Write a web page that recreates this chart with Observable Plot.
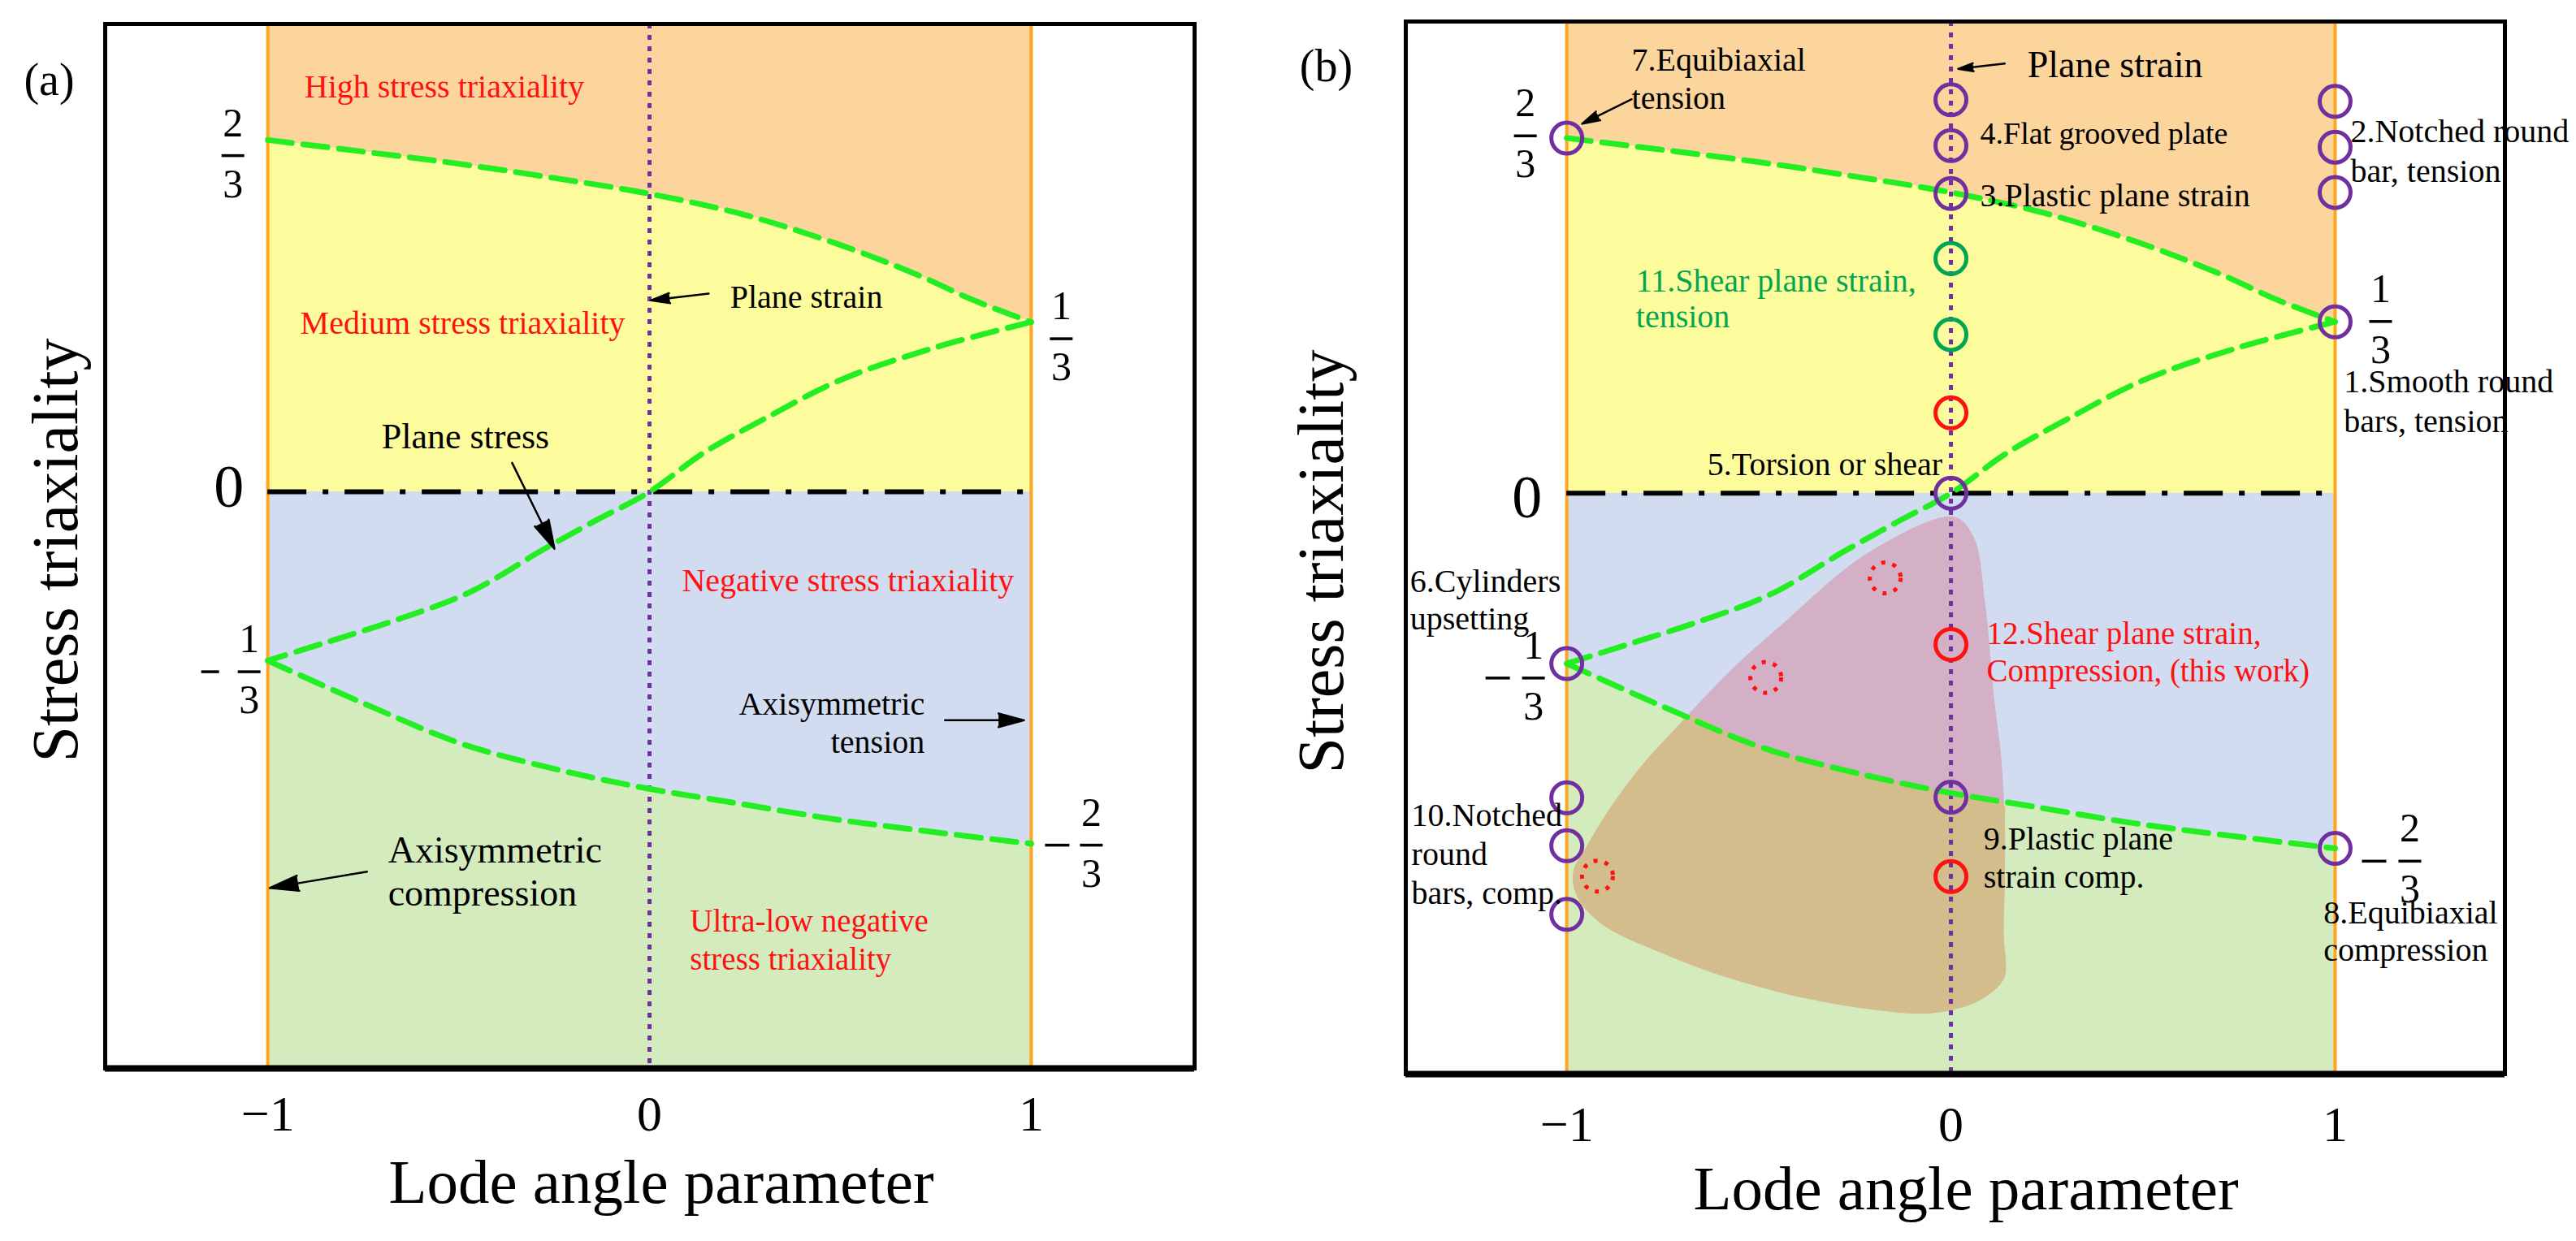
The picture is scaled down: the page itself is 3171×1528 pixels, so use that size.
<!DOCTYPE html>
<html>
<head>
<meta charset="utf-8">
<script src="https://cdn.jsdelivr.net/npm/d3@7"></script>
<script src="https://cdn.jsdelivr.net/npm/@observablehq/plot@0.6"></script>
<style>
html, body { margin: 0; padding: 0; background: #fff; }
#wrap { position: relative; width: 3171px; height: 1528px; overflow: hidden; background: #fff; }
#wrap svg { position: absolute; top: 0; }
</style>
</head>
<body>
<div id="wrap"></div>
<script>
// ---------------- data ----------------
const xTicks = [-1, 0, 1];
const xTickText = ["\u22121", "0", "1"];
const lodeLimits = [-1, 1];
const planeStrainLine = [0];
const neutralLine = [0];

// upper plane-stress branch (η from 2/3 to 1/3)
const upperX = [-1, -0.75, -0.5, -0.25, 0, 0.25, 0.5, 0.7, 0.85, 1];
const upperY = [0.667, 0.645, 0.622, 0.595, 0.565, 0.525, 0.468, 0.412, 0.363, 0.322];
// middle S-shaped plane-stress branch (1/3 -> 0 -> -1/3)
const stressX = [1, 0.75, 0.5, 0.3, 0.14, 0, -0.14, -0.28, -0.47, -0.66, -0.85, -1];
const stressY = [0.322, 0.274, 0.212, 0.138, 0.073, 0, -0.054, -0.11, -0.19, -0.242, -0.286, -0.32];
// lower branch (-1/3 -> -2/3)
const lowerX = [-1, -0.72, -0.49, -0.22, 0, 0.21, 0.47, 0.69, 1];
const lowerY = [-0.32, -0.41, -0.478, -0.53, -0.563, -0.588, -0.619, -0.64, -0.667];

// fraction labels of the stress triaxiality
const fracValue = [2/3, 1/3, -1/3, -2/3];
const fracNum = ["2", "1", "1", "2"];
const fracDen = ["3", "3", "3", "3"];
const fracNeg = [false, false, true, true];
const fracSide = [-1, 1, -1, 1];
const zeroValue = [0];

// panel (b) experiment markers
const purpleX = [-1, 0, 0, 0, 1, 1, 1, 1, 0, -1, 0, 1, -1, -1, -1];
const purpleY = [0.667, 0.739, 0.653, 0.563, 0.736, 0.650, 0.565, 0.322, 0, -0.32, -0.571, -0.667, -0.572, -0.662, -0.791];
const greenX = [0, 0];
const greenY = [0.441, 0.298];
const redX = [0, 0, 0];
const redY = [0.151, -0.284, -0.720];
const redDotX = [-0.171, -0.482, -0.920];
const redDotY = [-0.159, -0.346, -0.719];

// shaded domain of this work (panel b)
const blobX = [0.008, -0.214, -0.444, -0.571, -0.698, -0.803, -0.888, -0.951, -0.983, -0.973, -0.909, -0.761, -0.592, -0.381, -0.211, -0.061, 0.044, 0.108, 0.140, 0.137, 0.140, 0.140, 0.131, 0.112, 0.089, 0.059];
const blobY = [-0.044, -0.111, -0.249, -0.331, -0.427, -0.510, -0.592, -0.667, -0.711, -0.757, -0.809, -0.861, -0.907, -0.948, -0.969, -0.977, -0.962, -0.936, -0.907, -0.826, -0.731, -0.615, -0.498, -0.382, -0.206, -0.082];
const blobCrossX = [-0.687, 0.136];
const blobCrossY = [-0.417, -0.583];

// annotations panel (a)
const notesA = [
  {text: "High stress triaxiality", x: -0.904, y: 0.771, c: "red", s: 40},
  {text: "Medium stress triaxiality", x: -0.915, y: 0.323, c: "red", s: 40},
  {text: "Plane strain", x: 0.211, y: 0.372, c: "black", s: 40},
  {text: "Plane stress", x: -0.702, y: 0.109, c: "black", s: 44},
  {text: "Negative stress triaxiality", x: 0.085, y: -0.165, c: "red", s: 40},
  {text: "Axisymmetric\ntension", x: 0.721, y: -0.435, c: "black", s: 40, a: "end", lh: 1.18},
  {text: "Axisymmetric\ncompression", x: -0.685, y: -0.717, c: "black", s: 46, lh: 1.17},
  {text: "Ultra-low negative\nstress triaxiality", x: 0.106, y: -0.847, c: "red", s: 39, lh: 1.2}
];
const arrowsA = [
  {x1: 0.155, y1: 0.376, x2: 0.004, y2: 0.363},
  {x1: -0.360, y1: 0.055, x2: -0.249, y2: -0.108},
  {x1: 0.774, y1: -0.433, x2: 0.981, y2: -0.433},
  {x1: -0.740, y1: -0.720, x2: -0.995, y2: -0.751}
];
// annotations panel (b)
const notesB = [
  {text: "7.Equibiaxial\ntension", x: -0.831, y: 0.781, c: "black", s: 40, lh: 1.18},
  {text: "Plane strain", x: 0.199, y: 0.809, c: "black", s: 46},
  {text: "4.Flat grooved plate", x: 0.076, y: 0.679, c: "black", s: 38},
  {text: "3.Plastic plane strain", x: 0.076, y: 0.562, c: "black", s: 40},
  {text: "2.Notched round\nbar, tension", x: 1.040, y: 0.646, c: "black", s: 40, lh: 1.22},
  {text: "1.Smooth round\nbars, tension", x: 1.023, y: 0.176, c: "black", s: 40, lh: 1.22},
  {text: "11.Shear plane strain,\ntension", x: -0.820, y: 0.367, c: "green", s: 40, lh: 1.12},
  {text: "5.Torsion or shear", x: -0.634, y: 0.058, c: "black", s: 40},
  {text: "6.Cylinders\nupsetting", x: -1.408, y: -0.198, c: "black", s: 40, lh: 1.15},
  {text: "10.Notched\nround\nbars, comp.", x: -1.404, y: -0.675, c: "black", s: 40, lh: 1.2},
  {text: "12.Shear plane strain,\nCompression, (this work)", x: 0.093, y: -0.296, c: "red", s: 39, lh: 1.18},
  {text: "9.Plastic plane\nstrain comp.", x: 0.085, y: -0.682, c: "black", s: 40, lh: 1.18},
  {text: "8.Equibiaxial\ncompression", x: 0.970, y: -0.821, c: "black", s: 40, lh: 1.15}
];
const arrowsB = [
  {x1: -0.831, y1: 0.740, x2: -0.960, y2: 0.694},
  {x1: 0.140, y1: 0.807, x2: 0.019, y2: 0.797}
];

// ---------------- styles ----------------
const COL = {
  orangeFill: "#FBD59C", yellowFill: "#FDFC9C", blueFill: "#D1DCF0", greenFill: "#D4EBBE",
  pinkFill: "#D3B0C6", tanFill: "#D3BD8C",
  orangeLine: "#FFA51E", purple: "#7030A0", curve: "#22EE22",
  red: "#FF1111", green: "#00A651", black: "#000"
};
const FONT = '"Liberation Serif", "Times New Roman", Times, serif';

const hbar = {draw(ctx, size) { const r = Math.sqrt(size / Math.PI); ctx.moveTo(-r, 0); ctx.lineTo(r, 0); }};

const pts = (xs, ys) => xs.map((x, i) => ({x, y: ys[i]}));

function panel(cfg) {
  const [yMin, yMax] = cfg.yDomain;
  const upper = pts(upperX, upperY), middle = pts(stressX, stressY), lower = pts(lowerX, lowerY);
  const marks = [];
  marks.push(Plot.areaY(upper, {x: "x", y1: yMax, y2: "y", fill: COL.orangeFill, curve: "catmull-rom"}));
  marks.push(Plot.areaY(upper, {x: "x", y1: 0, y2: "y", fill: COL.yellowFill, curve: "catmull-rom"}));
  marks.push(Plot.areaY(lower, {x: "x", y1: 0, y2: "y", fill: COL.blueFill, curve: "catmull-rom"}));
  marks.push(Plot.areaY(lower, {x: "x", y1: "y", y2: yMin, fill: COL.greenFill, curve: "catmull-rom"}));

  if (cfg.blob) {
    const blob = pts(blobX, blobY);
    const lowerAt = (x) => {
      for (let i = 0; i < lowerX.length - 1; i++) {
        if (x >= lowerX[i] && x <= lowerX[i + 1]) {
          const t = (x - lowerX[i]) / (lowerX[i + 1] - lowerX[i]);
          return lowerY[i] + t * (lowerY[i + 1] - lowerY[i]);
        }
      }
      return lowerY[0];
    };
    const below = blob.filter(p => p.y < lowerAt(p.x));
    const along = lower.filter(p => p.x > blobCrossX[0] && p.x < blobCrossX[1]).reverse();
    const tan = [{x: blobCrossX[0], y: blobCrossY[0]}, ...below, {x: blobCrossX[1], y: blobCrossY[1]}, ...along];
    marks.push(Plot.line(blob, {x: "x", y: "y", curve: "catmull-rom-closed", fill: COL.pinkFill, stroke: "none"}));
    marks.push(Plot.line(tan, {x: "x", y: "y", curve: "catmull-rom-closed", fill: COL.tanFill, stroke: "none"}));
  }

  marks.push(Plot.ruleX(lodeLimits, {stroke: COL.orangeLine, strokeWidth: 4}));
  marks.push(Plot.ruleY(neutralLine, {x1: lodeLimits[0], x2: lodeLimits[1], stroke: COL.black, strokeWidth: 6, strokeDasharray: "48,20,7,20"}));
  marks.push(Plot.ruleX(planeStrainLine, {stroke: COL.purple, strokeWidth: 5, strokeDasharray: "6,8"}));
  for (const c of [upper, middle, lower]) {
    marks.push(Plot.line(c, {x: "x", y: "y", curve: "catmull-rom", stroke: COL.curve, strokeWidth: 7, strokeDasharray: "30,14"}));
  }

  if (cfg.markers) {
    marks.push(Plot.dot(pts(purpleX, purpleY), {x: "x", y: "y", r: 19, stroke: COL.purple, strokeWidth: 5, fill: "none"}));
    marks.push(Plot.dot(pts(greenX, greenY), {x: "x", y: "y", r: 19, stroke: COL.green, strokeWidth: 5, fill: "none"}));
    marks.push(Plot.dot(pts(redX, redY), {x: "x", y: "y", r: 19, stroke: COL.red, strokeWidth: 5, fill: "none"}));
    marks.push(Plot.dot(pts(redDotX, redDotY), {x: "x", y: "y", r: 19, stroke: COL.red, strokeWidth: 5, fill: "none", strokeDasharray: "5,9"}));
  }

  for (const n of cfg.notes) {
    marks.push(Plot.text([n], {x: "x", y: "y", text: "text", fill: COL[n.c], fontSize: n.s,
      textAnchor: n.a || "start", lineAnchor: "middle", lineHeight: n.lh || 1.2}));
  }
  marks.push(Plot.arrow(cfg.arrows, {x1: "x1", y1: "y1", x2: "x2", y2: "y2", stroke: "black", fill: "black",
    strokeWidth: 2.5, headLength: 22, headAngle: 30}));

  // fraction labels
  fracValue.forEach((v, i) => {
    const o = cfg.fracOff[i];
    const d = [{x: fracSide[i], y: v}];
    marks.push(Plot.text(d, {x: "x", y: "y", text: () => fracNum[i], dx: o.dx, dy: o.dy - 40, fontSize: 50, textAnchor: "middle", lineAnchor: "middle"}));
    marks.push(Plot.text(d, {x: "x", y: "y", text: () => fracDen[i], dx: o.dx, dy: o.dy + 35, fontSize: 50, textAnchor: "middle", lineAnchor: "middle"}));
    marks.push(Plot.dot(d, {x: "x", y: "y", symbol: hbar, r: 14, stroke: "black", strokeWidth: 3.5, fill: "none", dx: o.dx, dy: o.dy}));
    if (fracNeg[i]) {
      marks.push(Plot.dot(d, {x: "x", y: "y", symbol: hbar, r: o.mr, stroke: "black", strokeWidth: 3.5, fill: "none", dx: o.mdx, dy: o.dy}));
    }
  });
  marks.push(Plot.text(zeroValue, {x: lodeLimits[0], y: d => d, text: () => "0", dx: cfg.zeroOff.dx, dy: cfg.zeroOff.dy, fontSize: 74, textAnchor: "middle", lineAnchor: "middle"}));

  // axes texts
  marks.push(Plot.text(xTicks, {x: d => d, text: (d, i) => xTickText[i], frameAnchor: "bottom", lineAnchor: "top", dy: cfg.tickDy, fontSize: 62}));
  marks.push(Plot.text(["Lode angle parameter"], {text: d => d, frameAnchor: "bottom", lineAnchor: "bottom", dx: cfg.xLab.dx, dy: cfg.xLab.dy, fontSize: 77}));
  marks.push(Plot.text(["Stress triaxiality"], {text: d => d, frameAnchor: "left", rotate: -90, textAnchor: "middle", lineAnchor: "bottom", dx: cfg.yLab.dx, dy: cfg.yLab.dy, fontSize: 80}));
  marks.push(Plot.text([cfg.letter], {text: d => d, frameAnchor: "top-left", textAnchor: "middle", lineAnchor: "middle", dx: cfg.letterOff.dx, dy: cfg.letterOff.dy, fontSize: 56}));

  marks.push(Plot.frame({stroke: "black", strokeWidth: 5}));
  marks.push(Plot.ruleY([yMin], {stroke: "black", strokeWidth: 8}));

  const svg = Plot.plot({
    width: cfg.width, height: 1528,
    marginLeft: cfg.m[0], marginRight: cfg.m[1], marginTop: cfg.m[2], marginBottom: cfg.m[3],
    x: {domain: cfg.xDomain, axis: null},
    y: {domain: cfg.yDomain, axis: null},
    style: {fontFamily: FONT, background: "transparent", overflow: "visible", color: "black"},
    marks
  });
  svg.style.left = cfg.left + "px";
  return svg;
}

const wrap = document.getElementById("wrap");
wrap.appendChild(panel({
  left: 0, width: 1585, m: [129, 115, 29, 213],
  xDomain: [-1.426, 1.428], yDomain: [-1.093, 0.887],
  notes: notesA, arrows: arrowsA, letter: "(a)", letterOff: {dx: -69, dy: 70},
  fracOff: [{dx: -43, dy: 19}, {dx: 37, dy: 28}, {dx: -23, dy: 5, mdx: -71, mr: 11}, {dx: 74, dy: 2, mdx: 32, mr: 15}],
  zeroOff: {dx: -48, dy: -5},
  tickDy: 32, xLab: {dx: 14, dy: 165}, yLab: {dx: -35, dy: 5}
}));
wrap.appendChild(panel({
  left: 1585, width: 1586, m: [145, 88, 26, 206],
  xDomain: [-1.419, 1.442], yDomain: [-1.091, 0.886],
  notes: notesB, arrows: arrowsB, letter: "(b)", letterOff: {dx: -98, dy: 56},
  fracOff: [{dx: -51, dy: -3}, {dx: 56, dy: 7}, {dx: -41, dy: 9, mdx: -85, mr: 15}, {dx: 92, dy: 16, mdx: 48, mr: 15}],
  zeroOff: {dx: -49, dy: 6},
  tickDy: 38, xLab: {dx: 13, dy: 166}, yLab: {dx: -78, dy: 17},
  blob: true, markers: true
}));
</script>
</body>
</html>
